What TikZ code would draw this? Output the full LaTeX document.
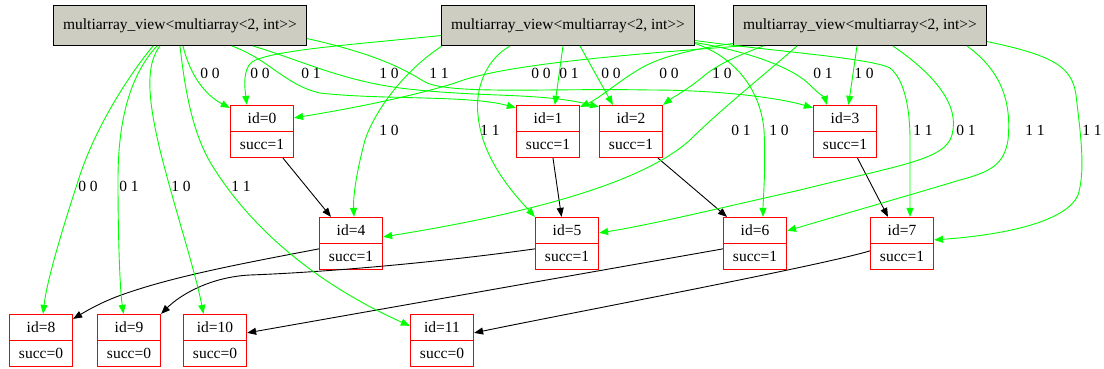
\documentclass[tikz,border=0pt]{standalone}
\usepackage{fontspec}
\setmainfont{Liberation Serif}
\usetikzlibrary{arrows.meta}
\definecolor{gv}{RGB}{0,255,0}
\definecolor{rd}{RGB}{255,0,0}
\definecolor{viewgray}{RGB}{205,205,193}
\newcommand{\viewtext}{multiarray\_view<multiarray<2, int>\kern0pt>}
\begin{document}
\begin{tikzpicture}[x=1pt,y=-1pt,
  every node/.style={font=\fontsize{15.5}{26}\selectfont, inner sep=0pt},
  view/.style={draw=black, fill=viewgray, line width=1pt, minimum width=253pt, minimum height=40pt},
  rec/.style={draw=rd, line width=1.25pt, minimum width=63pt, minimum height=52pt, align=center,
    path picture={\draw[rd,line width=1.25pt] (path picture bounding box.west) -- (path picture bounding box.east);}},
  ge/.style={gv, line width=0.9pt, -{Triangle[length=9pt,width=7pt]}},
  be/.style={black, line width=0.9pt, -{Triangle[length=9pt,width=7pt]}},
  lab/.style={text=black}]
\useasboundingbox[fill=white] (0,0) rectangle (1104,368);

% views
\node[view] (v1) at (180,25.5) {\viewtext};
\node[view] (v2) at (568,25.5) {\viewtext};
\node[view] (v3) at (860,25.5) {\viewtext};

% records
\node[rec] (n0) at (262,131.5) {id=0\\succ=1};
\node[rec] (n1) at (548,131.5) {id=1\\succ=1};
\node[rec] (n2) at (631,131.5) {id=2\\succ=1};
\node[rec] (n3) at (845,131.5) {id=3\\succ=1};
\node[rec] (n4) at (351,243.5) {id=4\\succ=1};
\node[rec] (n5) at (567,243.5) {id=5\\succ=1};
\node[rec] (n6) at (755,243.5) {id=6\\succ=1};
\node[rec] (n7) at (902,243.5) {id=7\\succ=1};
\node[rec] (n8) at (41,340.5) {id=8\\succ=0};
\node[rec] (n9) at (129,340.5) {id=9\\succ=0};
\node[rec] (n10) at (215,340.5) {id=10\\succ=0};
\node[rec] (n11) at (442,340.5) {id=11\\succ=0};

% black edges
\draw[be] ([xshift=21pt]n0.south) -- ([xshift=-20pt]n4.north);
\draw[be] ([xshift=5pt]n1.south) -- ([xshift=-5.5pt]n5.north);
\draw[be] ([xshift=27pt]n2.south) -- ([xshift=-28pt]n6.north);
\draw[be] ([xshift=12.5pt]n3.south) -- ([xshift=-14pt]n7.north);
\draw[be] ([yshift=-32pt]n4.north west) .. controls (250,262) and (180,275) .. (130,292) .. controls (105,300) and (88,310) .. ([yshift=-5pt]n8.north east);
\draw[be] ([yshift=-32pt]n5.north west) .. controls (440,262) and (330,272) .. (250,275) .. controls (210,277) and (180,295) .. (n9.north east);
\draw[be] ([yshift=-32pt]n6.north west) -- ([yshift=-19pt]n10.north east);
\draw[be] ([yshift=-34pt]n7.north west) .. controls (820,266) and (560,315) .. ([yshift=-19pt]n11.north east);

% V1 edges
\draw[ge] ([xshift=100pt]v1.south west) .. controls (125,80) and (95,130) .. (80,175) .. controls (62,230) and (47,280) .. ([xshift=2pt]n8.north);
\draw[ge] ([xshift=104pt]v1.south west) .. controls (130,75) and (118,120) .. (118,180) .. controls (118,240) and (120,290) .. ([xshift=-5.5pt]n9.north);
\draw[ge] ([xshift=107pt]v1.south west) .. controls (145,65) and (148,100) .. (160,150) .. controls (175,210) and (195,270) .. ([xshift=-11.5pt]n10.north);
\draw[ge] ([xshift=127pt]v1.south west) .. controls (186,100) and (195,140) .. (215,170) .. controls (260,240) and (330,290) .. ([yshift=-12pt]n11.north west);
\draw[ge] ([xshift=130pt]v1.south west) .. controls (190,75) and (205,95) .. ([yshift=-3pt]n0.north west);
\draw[ge] ([xshift=179pt]v1.south west) .. controls (270,60) and (285,85) .. (320,93) .. controls (380,100) and (470,95) .. ([yshift=-3pt]n1.north west);
\draw[ge] ([xshift=200pt]v1.south west) .. controls (300,60) and (340,80) .. (400,88) .. controls (480,98) and (540,92) .. ([yshift=-2pt]n2.north west);
\draw[ge] ([yshift=-13pt]v1.east) .. controls (380,55) and (405,70) .. (425,82) .. controls (450,95) and (550,88) .. (650,90) .. controls (720,90) and (780,98) .. ([yshift=-3pt]n3.north west);

% V2 edges
\draw[ge] ([yshift=-10pt]v2.west) .. controls (360,44) and (270,50) .. (252,62) .. controls (242,70) and (245,90) .. ([xshift=17pt]n0.north west);
\draw[ge] ([xshift=122pt]v2.south west) -- ([xshift=39pt]n1.north west);
\draw[ge] ([xshift=139pt]v2.south west) -- ([xshift=14pt]n2.north west);
\draw[ge] ([yshift=-17pt]v2.east) .. controls (740,50) and (790,65) .. (810,85) .. controls (820,95) and (825,98) .. ([xshift=14pt]n3.north west);
\draw[ge] ([xshift=1pt]v2.south west) .. controls (405,70) and (375,110) .. (365,140) .. controls (357,170) and (353,195) .. ([xshift=3pt]n4.north);
\draw[ge] ([xshift=69pt]v2.south west) .. controls (485,60) and (475,90) .. (478,115) .. controls (482,160) and (515,195) .. (n5.north west);
\draw[ge] ([yshift=-18pt]v2.east) .. controls (730,55) and (760,85) .. (764,130) .. controls (766,170) and (763,200) .. ([xshift=8pt]n6.north);
\draw[ge] ([yshift=-15pt]v2.east) .. controls (780,52) and (870,58) .. (890,68) .. controls (905,80) and (910,110) .. (910,140) -- ([xshift=8pt]n7.north);

% V3 edges
\draw[ge] ([xshift=8pt]v3.south west) .. controls (620,55) and (500,65) .. (455,83) .. controls (400,100) and (330,112) .. ([yshift=-13pt]n0.north east);
\draw[ge] ([yshift=-18pt]v3.west) .. controls (700,48) and (665,55) .. (643,67) .. controls (620,80) and (600,98) .. ([yshift=-2pt]n1.north east);
\draw[ge] ([xshift=30pt]v3.south west) .. controls (740,55) and (720,63) .. (705,75) .. controls (690,88) and (672,98) .. (n2.north east);
\draw[ge] ([xshift=124pt]v3.south west) -- ([xshift=3.5pt]n3.north);
\draw[ge] ([xshift=64pt]v3.south west) .. controls (770,70) and (720,110) .. (690,140) .. controls (640,185) and (520,215) .. ([yshift=-20pt]n4.north east);
\draw[ge] ([xshift=160pt]v3.south west) .. controls (935,75) and (960,105) .. (952,135) .. controls (945,160) and (900,165) .. (800,190) .. controls (720,208) and (650,225) .. ([yshift=-16pt]n5.north east);
\draw[ge] ([xshift=234pt]v3.south west) .. controls (1000,70) and (1012,100) .. (1008,140) .. controls (1004,165) and (990,172) .. (960,180) .. controls (900,198) and (830,218) .. ([yshift=-14pt]n6.north east);
\draw[ge] ([yshift=-16pt]v3.east) .. controls (1050,55) and (1072,65) .. (1076,95) .. controls (1080,130) and (1086,170) .. (1078,195) .. controls (1065,225) and (990,236) .. ([yshift=-23pt]n7.north east);

% labels
\node[lab] (a1) at (210,73) {0 0};
\node[lab] (a2) at (260,73) {0 0};
\node[lab] (a3) at (311,73) {0 1};
\node[lab] (a4) at (389,73) {1 0};
\node[lab] (a5) at (439,73) {1 1};
\node[lab] (a6) at (541,73) {0 0};
\node[lab] (a7) at (569,73) {0 1};
\node[lab] (a8) at (611,73) {0 0};
\node[lab] (a9) at (669,73) {0 0};
\node[lab] (a10) at (722,73) {1 0};
\node[lab] (a11) at (823,73) {0 1};
\node[lab] (a12) at (864,73) {1 0};
\node[lab] (b1) at (389,130) {1 0};
\node[lab] (b2) at (490,130) {1 1};
\node[lab] (b3) at (741,130) {0 1};
\node[lab] (b4) at (779,130) {1 0};
\node[lab] (b5) at (923,130) {1 1};
\node[lab] (b6) at (966,130) {0 1};
\node[lab] (b7) at (1035,130) {1 1};
\node[lab] (b8) at (1092,130) {1 1};
\node[lab] (c1) at (88,186) {0 0};
\node[lab] (c2) at (129,186) {0 1};
\node[lab] (c3) at (181,186) {1 0};
\node[lab] (c4) at (241,186) {1 1};
\end{tikzpicture}
\end{document}
